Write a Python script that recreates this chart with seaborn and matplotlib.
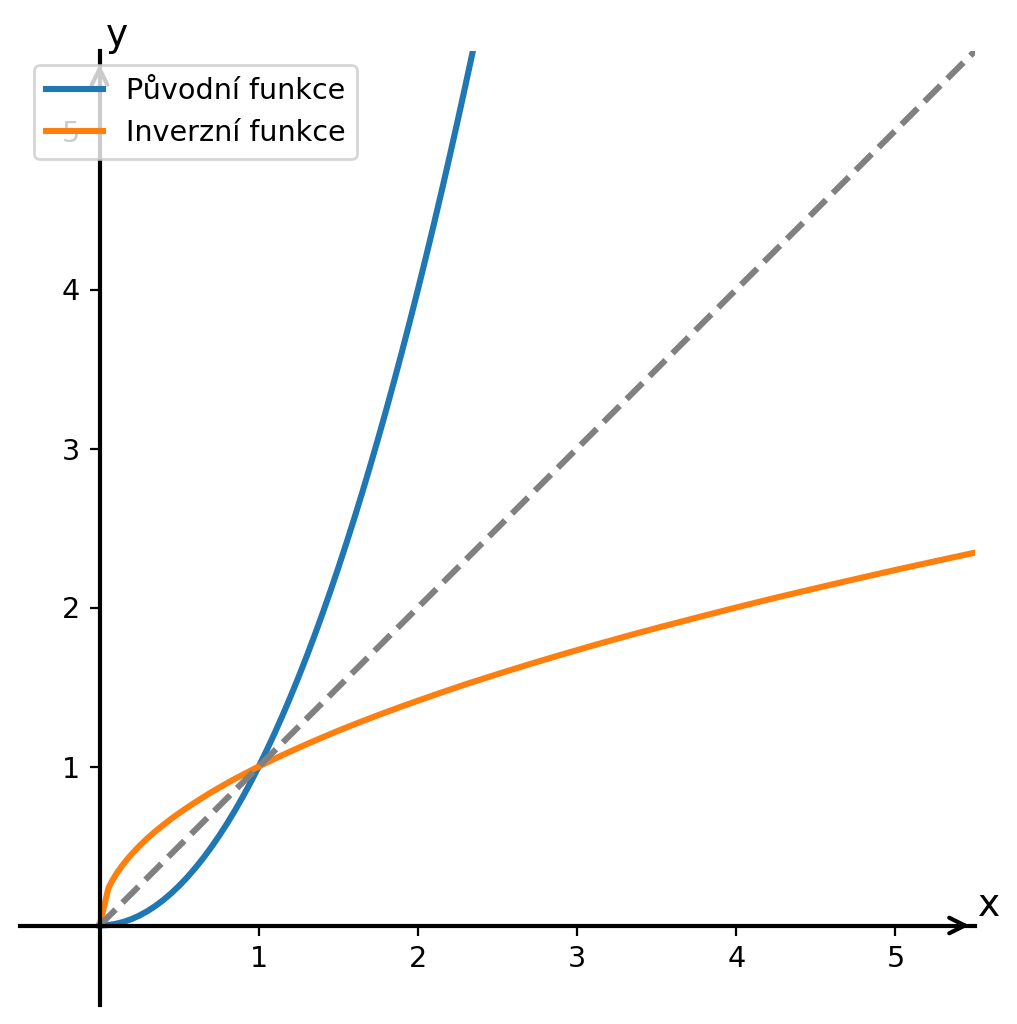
import matplotlib
matplotlib.use("Agg")
import matplotlib.pyplot as plt
import seaborn as sns

# points
x_orig = [0.0, 0.05, 0.1, 0.15, 0.2, 0.25, 0.3, 0.35, 0.4, 0.45, 0.5, 0.55, 0.6,
          0.65, 0.7, 0.75, 0.8, 0.85, 0.9, 0.95, 1.0, 1.05, 1.1, 1.15, 1.2, 1.25,
          1.3, 1.35, 1.4, 1.45, 1.5, 1.55, 1.6, 1.65, 1.7, 1.75, 1.8, 1.85, 1.9,
          1.95, 2.0, 2.05, 2.1, 2.15, 2.2, 2.25, 2.3, 2.35, 2.4]
y_orig = [0.0, 0.0025, 0.01, 0.0225, 0.04, 0.0625, 0.09, 0.1225, 0.16, 0.2025, 0.25,
          0.3025, 0.36, 0.4225, 0.49, 0.5625, 0.64, 0.7225, 0.81, 0.9025, 1.0, 1.1025,
          1.21, 1.3225, 1.44, 1.5625, 1.69, 1.8225, 1.96, 2.1025, 2.25, 2.4025, 2.56,
          2.7225, 2.89, 3.0625, 3.24, 3.4225, 3.61, 3.8025, 4.0, 4.2025, 4.41, 4.6225,
          4.84, 5.0625, 5.29, 5.5225, 5.76]

x_inv = [0.0, 0.056, 0.083, 0.11, 0.14, 0.17, 0.2, 0.25, 0.3, 0.35, 0.4, 0.45, 0.5,
         0.56, 0.62, 0.69, 0.76, 0.84, 0.92, 1.0, 1.1, 1.2, 1.3, 1.4, 1.5, 1.62,
         1.75, 1.88, 2.0, 2.15, 2.3, 2.5, 2.7, 2.9, 3.1, 3.3, 3.5, 3.75, 4.0, 4.25,
         4.5, 4.75, 5.0, 5.25, 5.5]
y_inv = [0.0, 0.237, 0.288, 0.332, 0.374, 0.412, 0.447, 0.5, 0.548, 0.592, 0.632,
         0.671, 0.707, 0.748, 0.787, 0.831, 0.872, 0.917, 0.959, 1.0, 1.049, 1.095,
         1.14, 1.183, 1.225, 1.273, 1.323, 1.371, 1.414, 1.466, 1.517, 1.581, 1.643,
         1.703, 1.761, 1.817, 1.871, 1.936, 2.0, 2.062, 2.121, 2.179, 2.236, 2.291,
         2.345]

x_diag = [0.0, 5.5]
y_diag = [0.0, 5.5]

ticks = [1, 2, 3, 4, 5]
labels = ["Původní funkce", "Inverzní funkce"]

plt.rcParams["font.size"] = 10.3

fig = plt.figure(figsize=(1017 / 200, 1024 / 200), dpi=200)
ax = fig.add_axes([20 / 1017, 19 / 1024, 955 / 1017, 954 / 1024])

sns.lineplot(x=x_orig, y=y_orig, ax=ax, color="tab:blue", lw=2.2, label=labels[0], sort=False)
sns.lineplot(x=x_inv, y=y_inv, ax=ax, color="tab:orange", lw=2.2, label=labels[1], sort=False)
sns.lineplot(x=x_diag, y=y_diag, ax=ax, color="gray", lw=2.2, linestyle="--")

ax.set_xlim(-0.5, 5.5)
ax.set_ylim(-0.5, 5.5)
ax.set_xticks(ticks)
ax.set_yticks(ticks)

for side in ["top", "right"]:
    ax.spines[side].set_visible(False)
for side in ["left", "bottom"]:
    ax.spines[side].set_position("zero")
    ax.spines[side].set_linewidth(1.5)

# arrow heads at the axis ends
ax.annotate("", xy=(5.5, 0), xytext=(5.4, 0),
            arrowprops=dict(arrowstyle="->", lw=1.5, color="k", mutation_scale=14,
                            shrinkA=0))
ax.annotate("", xy=(0, 5.45), xytext=(0, 5.35),
            arrowprops=dict(arrowstyle="->", lw=1.5, color="k", mutation_scale=14,
                            shrinkA=0))

ax.text(5.52, 0.06, "x", fontsize=13.5, va="baseline", ha="left")
ax.text(0.04, 5.53, "y", fontsize=13.5, va="baseline", ha="left")

ax.legend(loc="upper left")

fig.savefig("out.png", dpi=200)
